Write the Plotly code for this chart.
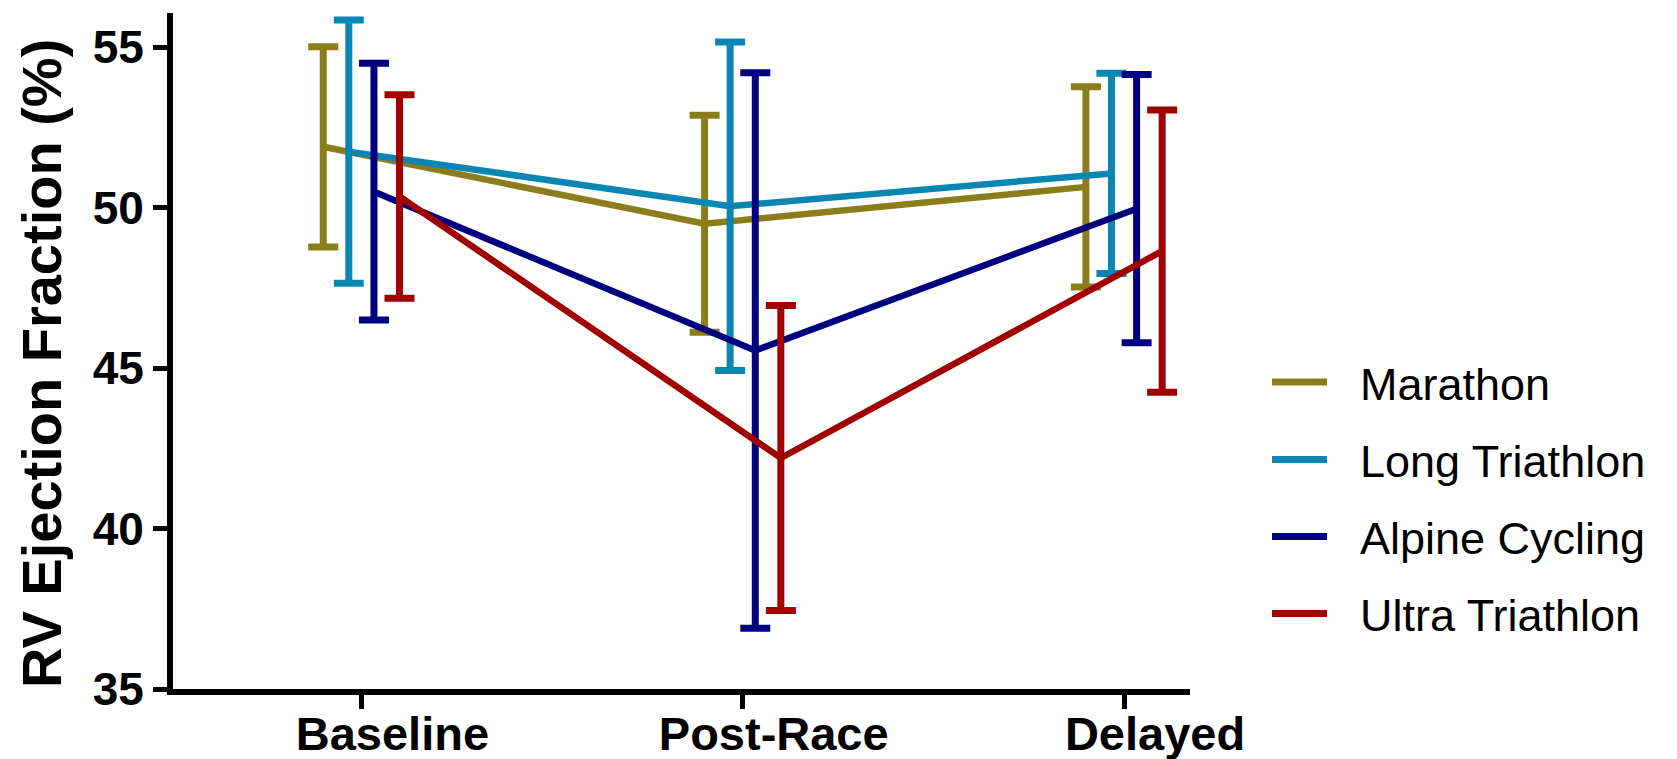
import plotly.graph_objects as go

categories = ["Baseline", "Post-Race", "Delayed"]
series_names = ["Marathon", "Long Triathlon", "Alpine Cycling", "Ultra Triathlon"]
series_colors = ["#8C7D1C", "#0A86B2", "#00007F", "#A00000"]

marathon_mean = [51.9, 49.5, 50.65]
marathon_err = [3.12, 3.38, 3.12]
long_tri_mean = [51.75, 50.05, 51.07]
long_tri_err = [4.1, 5.12, 3.12]
alpine_mean = [50.5, 45.55, 49.97]
alpine_err = [4.0, 8.66, 4.18]
ultra_mean = [50.35, 42.2, 48.65]
ultra_err = [3.17, 4.75, 4.4]

y_ticks = [35, 40, 45, 50, 55]

means = [marathon_mean, long_tri_mean, alpine_mean, ultra_mean]
errs = [marathon_err, long_tri_err, alpine_err, ultra_err]
offsets = [-0.1, -0.033, 0.033, 0.1]

W, H = 1677, 759
L, R, T, B = 173, 1190, 13, 689

fig = go.Figure()
for name, col, m, e, off in zip(series_names, series_colors, means, errs, offsets):
    fig.add_trace(go.Scatter(
        x=[i + off for i in range(len(categories))], y=m,
        mode="lines", name=name,
        line=dict(color=col, width=6.5),
        error_y=dict(type="data", array=e, visible=True, color=col, thickness=7, width=15),
        showlegend=False,
    ))

def px_x(p):
    return (p - L) / (R - L)

def px_y(p):
    return (B - p) / (B - T)

shapes = []
annotations = []
leg_y = [382, 459.5, 536.5, 613.5]
for name, col, ly in zip(series_names, series_colors, leg_y):
    shapes.append(dict(type="line", xref="paper", yref="paper",
                       x0=px_x(1272), x1=px_x(1327), y0=px_y(ly), y1=px_y(ly),
                       line=dict(color=col, width=7)))
    annotations.append(dict(xref="paper", yref="paper", x=px_x(1358), y=px_y(ly + 2),
                            text=name, showarrow=False, xanchor="left", yanchor="middle",
                            font=dict(family="Liberation Sans", size=45, color="black")))

annotations.append(dict(xref="paper", yref="paper", x=px_x(42), y=px_y(364),
                        text="RV Ejection Fraction (%)", showarrow=False, textangle=-90,
                        xanchor="center", yanchor="middle",
                        font=dict(family="Liberation Sans", size=56, color="black", weight="bold")))

fig.update_layout(
    width=W, height=H,
    margin=dict(l=L, r=W - R, t=T, b=H - B, pad=0),
    paper_bgcolor="white", plot_bgcolor="white",
    showlegend=False,
    shapes=shapes, annotations=annotations,
    xaxis=dict(range=[-0.494, 2.173], tickvals=list(range(len(categories))), ticktext=categories,
               showline=True, linecolor="black", linewidth=6, ticks="outside", ticklen=14,
               tickwidth=5, tickcolor="black", showgrid=False, zeroline=False,
               ticklabelshift=31, ticklabelstandoff=-15, automargin=False,
               tickfont=dict(family="Liberation Sans", size=47, color="black", weight="bold")),
    yaxis=dict(range=[35, 56.07], tickvals=y_ticks,
               showline=True, linecolor="black", linewidth=6, ticks="outside", ticklen=14,
               tickwidth=5, tickcolor="black", showgrid=False, zeroline=False,
               automargin=False,
               tickfont=dict(family="Liberation Sans", size=46, color="black", weight="bold")),
)

fig.write_html("out.html", config={"displayModeBar": False},
               post_script="document.body.style.margin='0';document.body.style.overflow='hidden';")
